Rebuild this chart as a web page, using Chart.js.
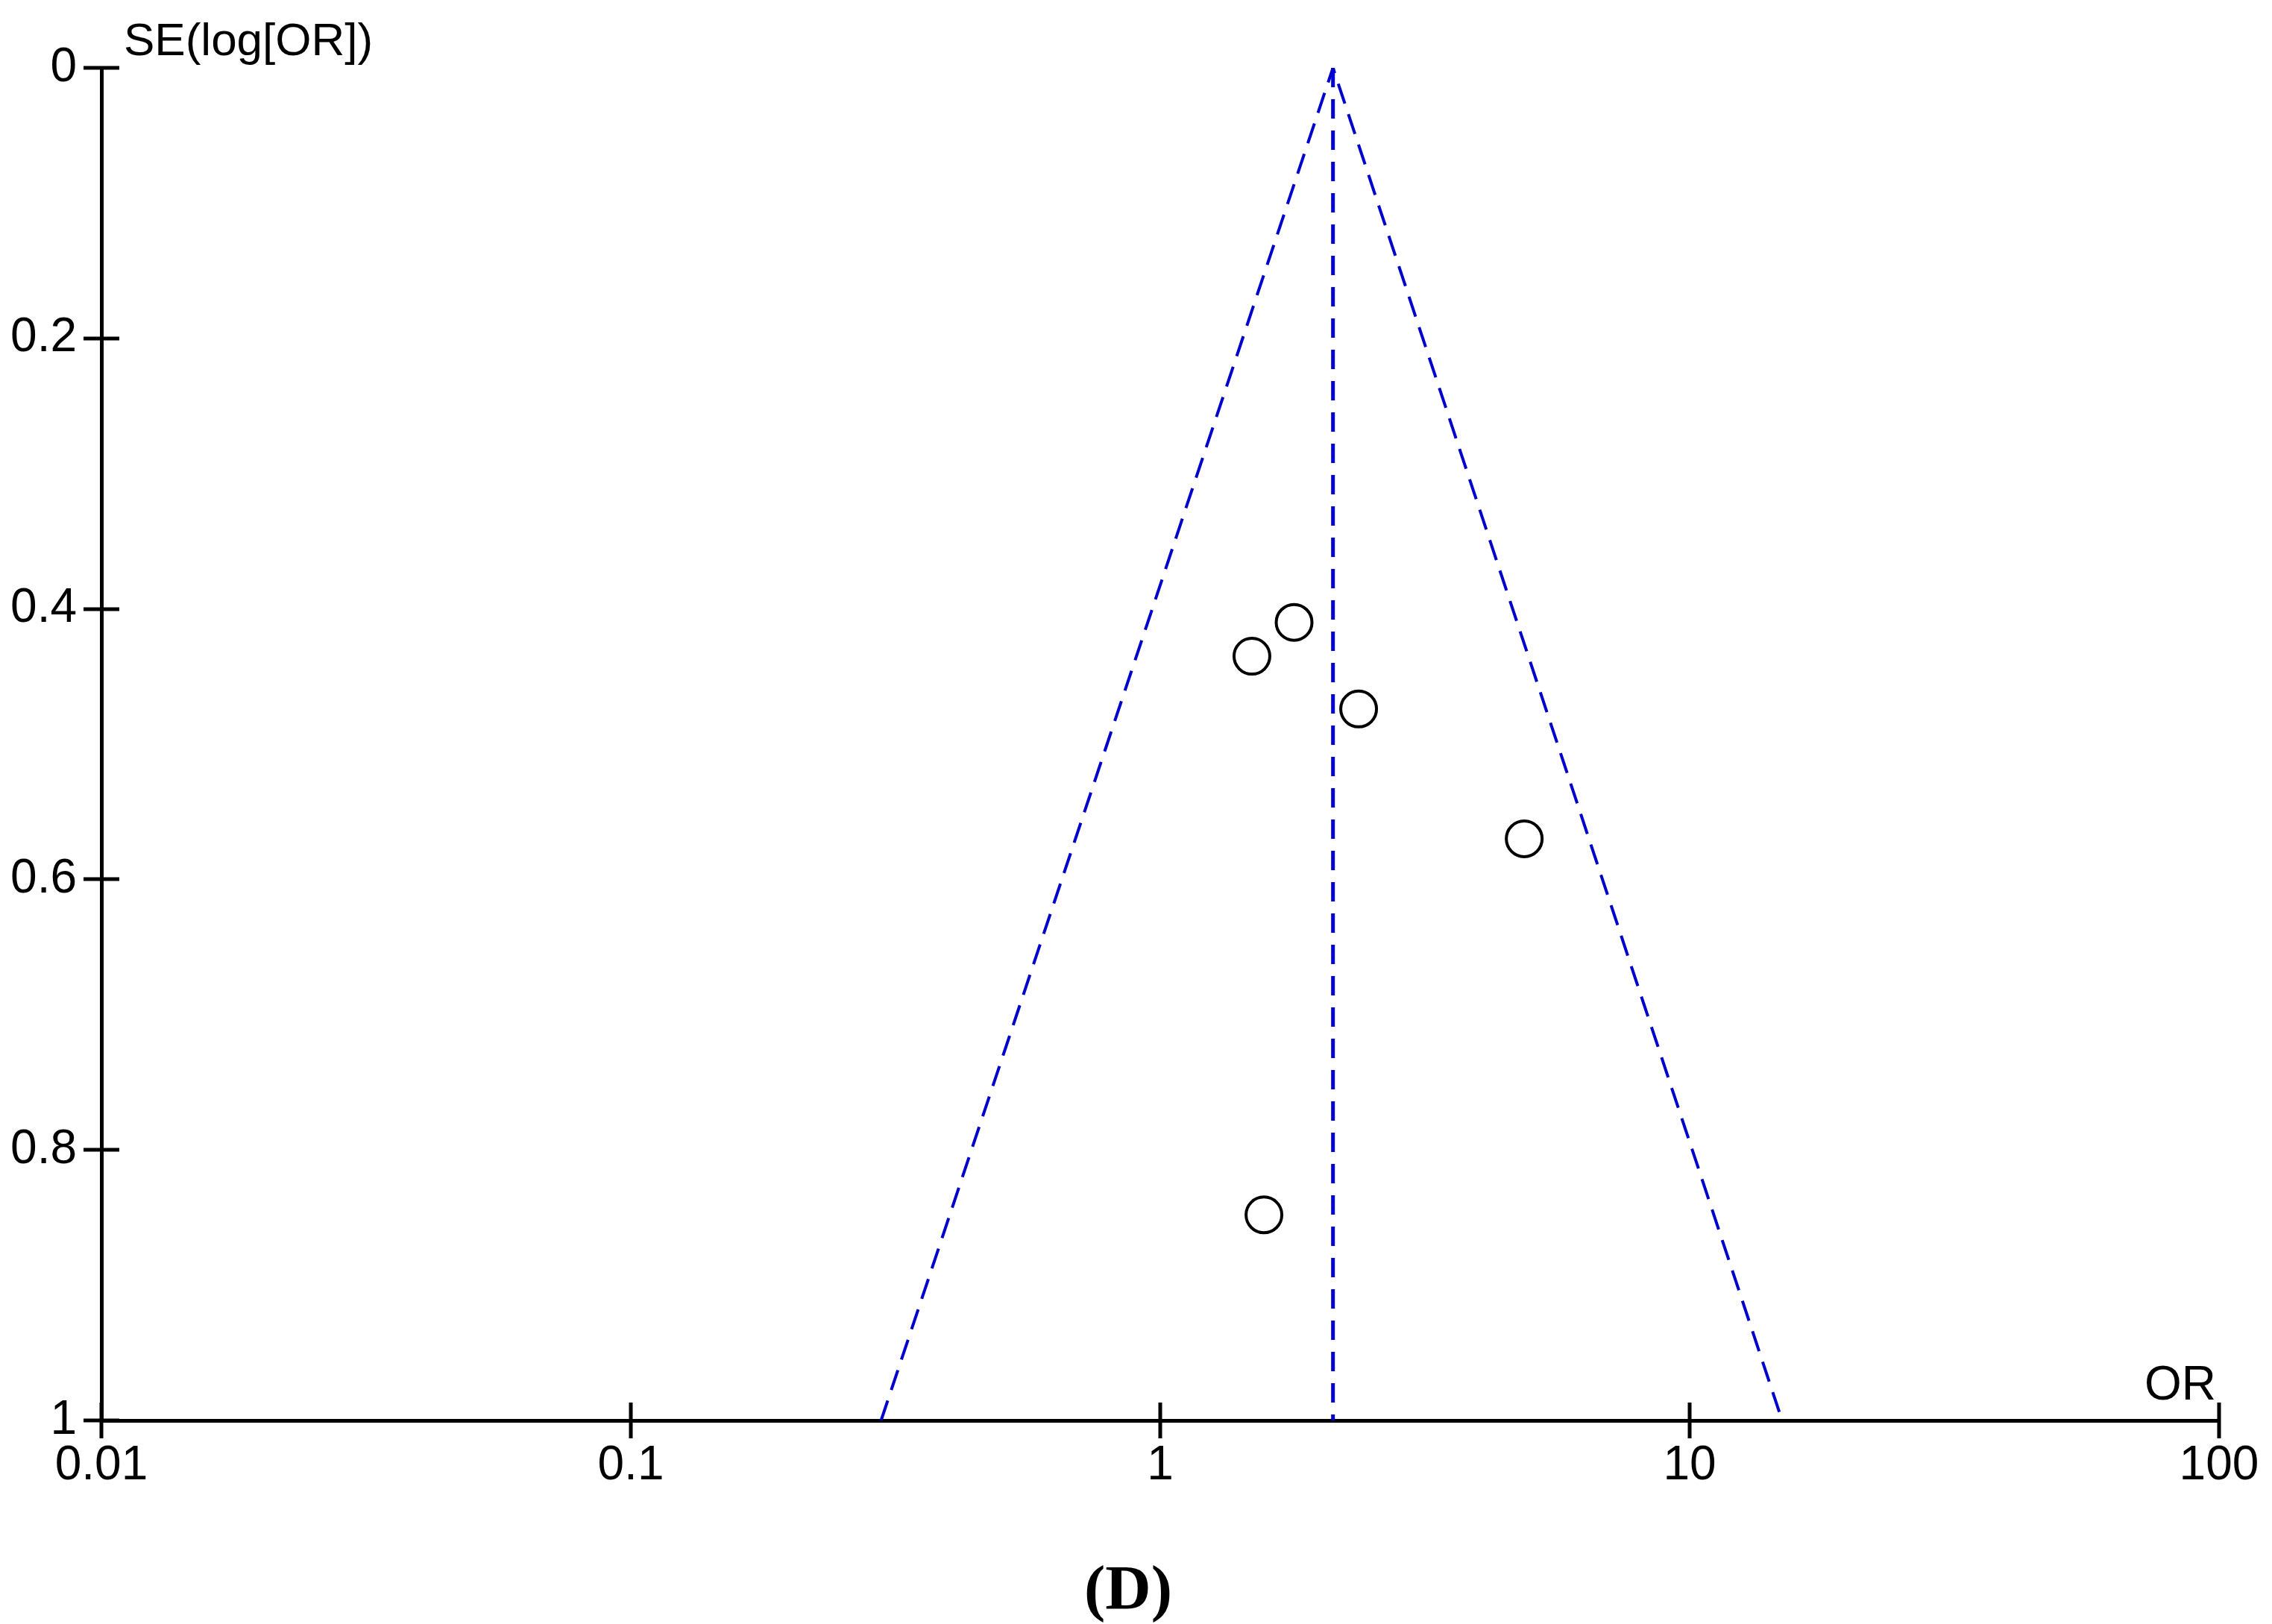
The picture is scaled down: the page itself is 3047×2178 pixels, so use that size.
<!DOCTYPE html>
<html>
<head>
<meta charset="utf-8">
<script src="https://cdn.jsdelivr.net/npm/chart.js@4"></script>
<style>
  html, body { margin: 0; padding: 0; background: #fff; }
  canvas { display: block; }
</style>
</head>
<body>
<canvas id="funnelChart" width="3047" height="2178" style="width:3047px;height:2178px"></canvas>
<script>
/* ---- Study data ---- */
const studyOR = [1.79, 1.49, 2.37, 4.87, 1.57];
const studySE = [0.41, 0.435, 0.474, 0.57, 0.848];

/* ---- Pooled estimate and funnel limits ---- */
const pooledOR = 2.12;
const funnelOR = [0.297, 2.12, 14.95];
const funnelSE = [1, 0, 1];

/* ---- Axis ticks ---- */
const xTicks = [0.01, 0.1, 1, 10, 100];
const yTicks = [0, 0.2, 0.4, 0.6, 0.8, 1];

const FONT = "'Liberation Sans Narrow', 'Liberation Sans', Arial, sans-serif";
const BLUE = "#0000cc";

/* crossing tick marks, axis titles and panel letter */
const extras = {
  id: "extras",
  afterDraw(chart) {
    const ctx = chart.ctx;
    const xs = chart.scales.x, ys = chart.scales.y;
    const area = chart.chartArea;
    ctx.save();
    ctx.strokeStyle = "#000";
    ctx.lineWidth = 5;
    ctx.beginPath();
    xs.ticks.forEach(t => {
      const px = Math.round(xs.getPixelForValue(t.value));
      ctx.moveTo(px, area.bottom - 24);
      ctx.lineTo(px, area.bottom + 24);
    });
    ys.ticks.forEach(t => {
      const py = Math.round(ys.getPixelForValue(t.value));
      ctx.moveTo(area.left - 24, py);
      ctx.lineTo(area.left + 24, py);
    });
    ctx.stroke();

    ctx.fillStyle = "#000";
    ctx.font = "62px " + FONT;
    ctx.textBaseline = "alphabetic";
    ctx.textAlign = "left";
    ctx.fillText("SE(log[OR])", area.left + 30, 74);
    ctx.textAlign = "right";
    ctx.font = "64px " + FONT;
    ctx.fillText("OR", area.right - 4, area.bottom - 28);

    ctx.font = "bold 85px 'Liberation Serif', 'Times New Roman', serif";
    ctx.textAlign = "center";
    ctx.fillText("(D)", 1513, 2158);
    ctx.restore();
  }
};

new Chart(document.getElementById("funnelChart"), {
  type: "scatter",
  data: {
    datasets: [
      {
        label: "Studies",
        data: studyOR.map((v, i) => ({ x: v, y: studySE[i] })),
        pointStyle: "circle",
        pointRadius: 24,
        pointBorderWidth: 4,
        pointBorderColor: "#000",
        pointBackgroundColor: "rgba(0,0,0,0)",
        order: 0
      },
      {
        label: "Funnel",
        data: funnelOR.map((v, i) => ({ x: v, y: funnelSE[i] })),
        showLine: true,
        borderColor: BLUE,
        borderWidth: 4,
        borderDash: [28, 15],
        pointRadius: 0,
        tension: 0,
        order: 1
      },
      {
        label: "Pooled",
        data: [{ x: pooledOR, y: 0 }, { x: pooledOR, y: 1 }],
        showLine: true,
        borderColor: BLUE,
        borderWidth: 5,
        borderDash: [26, 16],
        pointRadius: 0,
        order: 1
      }
    ]
  },
  options: {
    responsive: false,
    animation: false,
    devicePixelRatio: 1,
    layout: { padding: { left: 0, top: 91, right: 71, bottom: 163 } },
    plugins: {
      legend: { display: false },
      tooltip: { enabled: false }
    },
    scales: {
      x: {
        type: "logarithmic",
        min: 0.01,
        max: 100,
        afterBuildTicks: s => { s.ticks = xTicks.map(v => ({ value: v })); },
        afterFit: s => { s.height = 110; },
        grid: { display: false, drawTicks: true, tickLength: 23 },
        border: { display: true, color: "#000", width: 5 },
        ticks: {
          color: "#000",
          font: { family: FONT, size: 64 },
          padding: 0,
          maxRotation: 0,
          autoSkip: false,
          callback: v => String(v)
        }
      },
      y: {
        type: "linear",
        reverse: true,
        min: 0,
        max: 1,
        afterBuildTicks: s => { s.ticks = yTicks.map(v => ({ value: v })); },
        afterFit: s => { s.width = 136; },
        grid: { display: false, drawTicks: true, tickLength: 23 },
        border: { display: true, color: "#000", width: 5 },
        ticks: {
          color: "#000",
          font: { family: FONT, size: 64 },
          padding: 10,
          callback: v => String(v)
        }
      }
    }
  },
  plugins: [extras]
});
</script>
</body>
</html>
